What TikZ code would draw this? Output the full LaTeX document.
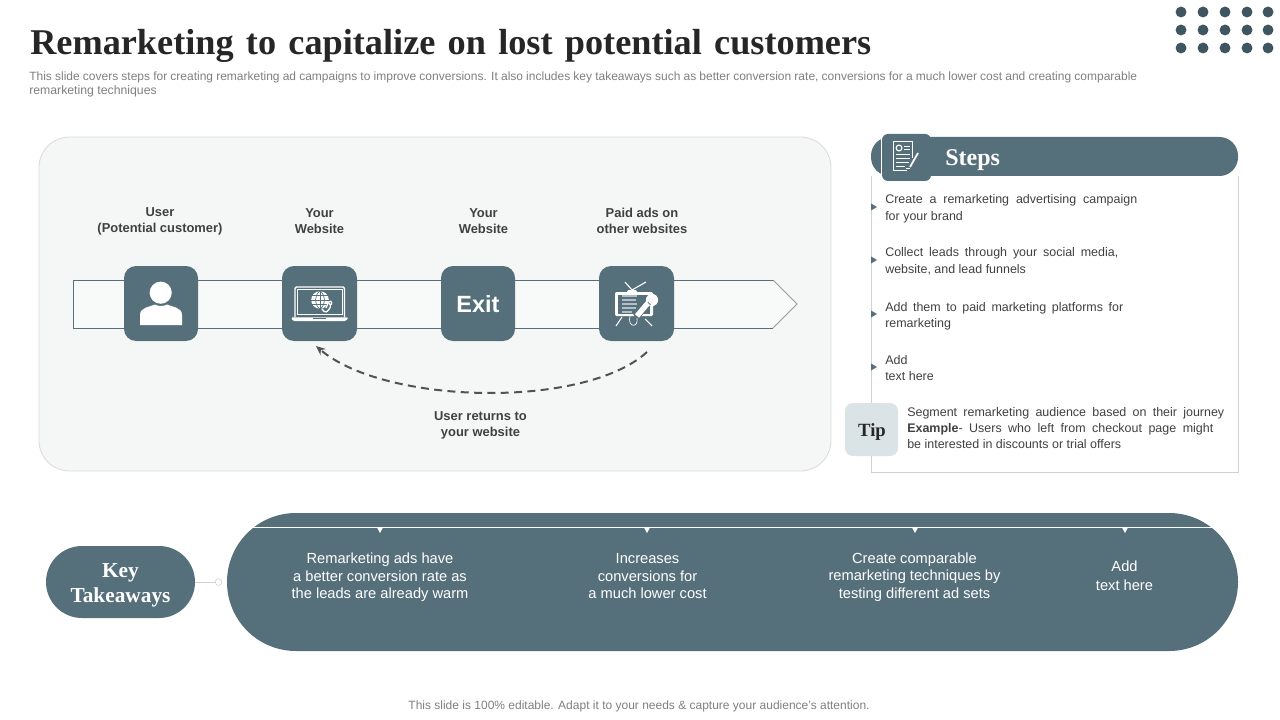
\documentclass[tikz,border=0pt]{standalone}
\usepackage{fontspec}
\setmainfont{Liberation Sans}
\newfontfamily\serifb[Ligatures=TeX]{Liberation Serif}
\usetikzlibrary{arrows.meta,calc}
\definecolor{slate}{HTML}{56707B}
\definecolor{dots}{HTML}{3F5661}
\definecolor{body}{HTML}{404040}
\definecolor{sub}{HTML}{7F7F7F}
\definecolor{panel}{HTML}{F5F7F6}
\definecolor{tipc}{HTML}{DAE3E6}
\newcommand{\fitline}[6]{\node[anchor=base west,inner sep=0pt,text=#5] (#1) at (#2) {#6\makebox[\dimexpr #3pt*3/4\relax][s]{#4}};}
\newcommand{\plainline}[5]{\node[anchor=base west,inner sep=0pt,text=#3] (#1) at (#2) {#4#5};}
\tikzset{
  iconbox/.style={fill=slate,rounded corners=9pt},
  lab/.style={align=center,inner sep=0pt,text=body,font=\fontsize{9.7}{12}\selectfont\bfseries},
  take/.style={align=center,inner sep=0pt,text=white,font=\fontsize{11}{13.1}\selectfont},
  bullet/.style={fill=slate},
  drop/.style={fill=white}
}
\newcommand{\stf}{\fontsize{9.35}{12}\selectfont}
\begin{document}
\begin{tikzpicture}[x=0.75pt,y=-0.75pt]
\useasboundingbox (0,0) rectangle (1280,720);
% title
\fitline{title}{30,55}{841}{Remarketing to capitalize on lost potential customers}{black!85}{\serifb\fontsize{27.2}{30}\selectfont\bfseries}
\fitline{sub1}{29,81}{1108}{This slide covers steps for creating remarketing ad campaigns to improve conversions. It also includes key takeaways such as better conversion rate, conversions for a much lower cost and creating comparable}{sub}{\fontsize{9}{10}\selectfont}
\plainline{sub2}{29,95}{sub}{\fontsize{9.2}{10}\selectfont}{remarketing techniques}
% dots
\foreach \x in {1181,1203,1225,1247,1268} \foreach \y in {12,30,48} \fill[dots] (\x,\y) circle (4.1pt);
% panel
\draw[draw=black!15,fill=panel,line width=0.6pt,rounded corners=23pt] (39,137) rectangle (831,471);
% arrow
\filldraw[fill=white!30!panel,draw=slate,line width=0.7pt] (773,280) -- (73,280) -- (73,328) -- (773,328);
\fill[white!30!panel] (773,280) -- (797,304) -- (773,328) -- cycle;
\draw[black!40,line width=0.6pt] (773,280) -- (797,304) -- (773,328);
% labels
\node[lab] (l1) at (160,221) {User\\(Potential customer)};
\node[lab] (l2) at (319.5,221) {Your\\Website};
\node[lab] (l3) at (483.5,221) {Your\\Website};
\node[lab] (l4) at (642,221) {Paid ads on\\other websites};
\node[lab] (l5) at (480.5,425) {User returns to\\your website};
% icon boxes
\fill[iconbox] (124,266) rectangle (198,341);
\fill[iconbox] (282,266) rectangle (357,341);
\fill[iconbox] (441,266) rectangle (515,341);
\fill[iconbox] (599,266) rectangle (674,341);
% person
\fill[white] (160.7,292.7) circle (8.3pt);
\fill[white] (140,325) -- (140,315) .. controls (140,307) and (150,307) .. (155,304.5) .. controls (158,306.5) and (164,306.5) .. (167,304.5) .. controls (172,307) and (182,307) .. (182,315) -- (182,325) -- cycle;
% laptop
\draw[white,line width=1pt,rounded corners=1pt] (295,317) -- (295,287) -- (344.5,287) -- (344.5,317);
\draw[white,line width=0.5pt] (297.5,289.5) rectangle (342,314.5);
\fill[white,rounded corners=1pt] (291,317.3) -- (348.5,317.3) -- (346,321) -- (293,321) -- cycle;
\fill[slate] (313,317.6) rectangle (326,319);
\fill[white] (320,300) circle (6.6pt);
\begin{scope}[slate,line width=0.5pt]
\draw (311,300) -- (329,300) (311.8,295.5) -- (328.2,295.5) (311.8,304.5) -- (328.2,304.5) (320,291) -- (320,309);
\draw (320,291) .. controls (314,295) and (314,305) .. (320,309);
\draw (320,291) .. controls (326,295) and (326,305) .. (320,309);
\end{scope}
\draw[slate,line width=2.2pt] (324,312) -- (331,301);
\draw[white,line width=1pt,rounded corners=1pt] (322,309) -- (325,312.5) -- (328,311) -- (331,306) -- (329,303);
\draw[white,line width=1pt,rounded corners=1pt] (326,308) -- (329,301) -- (332,301.5) -- (331,305);
% exit
\node[inner sep=0pt,text=white,font=\fontsize{17.6}{20}\selectfont\bfseries] (exit) at (478,304) {Exit};
% tv
\draw[white,line width=0.8pt] (625,282) -- (632,290) (646,282) -- (632,290);
\fill[white] (628,290) -- (636,290) -- (637,292) -- (627,292) -- cycle;
\fill[white,rounded corners=1pt] (615,292) rectangle (653,316);
\fill[slate] (618,294.5) rectangle (650,313.5);
\draw[white!55!slate,line width=1.1pt] (622,296) -- (637,296) (622,300) -- (636,300) (622,304) -- (637,304) (622,308) -- (636,308) (622,312) -- (632,312);
\draw[white,line width=0.8pt] (622,317) -- (616,326) (645,319) -- (652,326);
\draw[white,line width=0.5pt] (630,316) .. controls (627,328) and (639,328) .. (637,318);
\draw[slate,line width=5.5pt] (636,317) -- (650,300);
\draw[white,line width=4pt] (637,316) -- (648,303);
\fill[white] (652,300) circle (4.6pt);
\draw[slate,line width=0.5pt] (647.8,302.2) -- (650.6,305);
% dashed return arrow
\coordinate (retS) at (647,352);
\coordinate (retE) at (316,346);
\draw[body!90!white,line width=1.5pt,dash pattern=on 6pt off 4pt,-{Stealth[length=7pt,width=6pt]}] (retS) .. controls (585,409) and (385,405) .. (retE);
% steps
\draw[black!18,line width=0.6pt] (871,176) -- (871,472) -- (1238.5,472) -- (1238.5,176);
\fill[slate,rounded corners=14pt] (871,137) rectangle (1238,176);
\draw[white,line width=0.5pt] (881.5,134) -- (881.5,178);
\fill[iconbox,rounded corners=4.5pt] (882,134) rectangle (931,181);
\draw[white,line width=0.6pt] (912,158) -- (912,141.5) -- (893.5,141.5) -- (893.5,170) -- (907,170);
\draw[white,line width=0.8pt] (899,148) circle (2.2pt);
\draw[white,line width=0.5pt] (904,146) -- (910,146) (904,149) -- (910,149) (896,154) -- (910,154) (896,158) -- (910,158) (896,162) -- (909,162) (896,166) -- (905,166);
\draw[white,line width=1.3pt] (910,167) -- (918,153);
\draw[white,line width=0.5pt] (906,168.5) -- (910,168.5);
\node[anchor=base west,inner sep=0pt,text=white,font=\serifb\fontsize{18}{20}\selectfont\bfseries] (steps) at (945,166) {Steps};
\foreach \y in {207,260,314,367} \fill[bullet] (871,\y-3.5) -- (877,\y) -- (871,\y+3.5) -- cycle;
\fitline{s1a}{885,204}{252}{Create a remarketing advertising campaign}{body}{\stf}
\plainline{s1b}{885,220}{body}{\stf}{for your brand}
\fitline{s2a}{885,257}{233}{Collect leads through your social media,}{body}{\stf}
\plainline{s2b}{885,273}{body}{\stf}{website, and lead funnels}
\fitline{s3a}{885,311}{238}{Add them to paid marketing platforms for}{body}{\stf}
\plainline{s3b}{885,327}{body}{\stf}{remarketing}
\plainline{s4a}{885,364}{body}{\stf}{Add}
\plainline{s4b}{885,380}{body}{\stf}{text here}
% tip
\fill[tipc,rounded corners=6pt] (845,403) rectangle (898,456);
\node[inner sep=0pt,text=black!85,font=\serifb\fontsize{14}{16}\selectfont\bfseries] (tip) at (872,432.5) {Tip};
\fitline{t1}{907,416}{317}{Segment remarketing audience based on their journey}{body}{\stf}
\fitline{t2}{907,432}{306}{\textbf{Example}- Users who left from checkout page might}{body}{\stf}
\plainline{t3}{907,448}{body}{\stf}{be interested in discounts or trial offers}
% takeaways
\fill[slate,rounded corners=27pt] (46,546) rectangle (195,618);
\node[align=center,inner sep=0pt,text=white,font=\serifb\fontsize{16}{18.5}\selectfont\bfseries] (key) at (120.5,585.5) {Key\\Takeaways};
\coordinate (keyR) at (195,582);
\node[circle,draw=black!18,fill=white,line width=0.4pt,inner sep=0pt,minimum size=5pt] (dot) at (218.5,582) {};
\draw[black!18,line width=0.5pt] (keyR) -- (dot);
\fill[slate,rounded corners=51.7pt] (227,513) rectangle (1238,651);
\draw[white,line width=0.8pt] (252,527.5) -- (1212,527.5);
\foreach \x in {380,647,915,1125} \fill[drop] (\x-3,527.5) -- (\x+3,527.5) -- (\x,533) -- cycle;
\node[take] (k1) at (380,577.3) {Remarketing ads have\\a better conversion rate as\\the leads are already warm};
\node[take] (k2) at (647.5,576.2) {Increases\\conversions for\\a much lower cost};
\node[take] (k3) at (914.5,577) {Create comparable\\remarketing techniques by\\testing different ad sets};
\node[take,font=\fontsize{11}{14.2}\selectfont] (k4) at (1124.5,576) {Add\\text here};
% footer
\node[inner sep=0pt,text=sub,font=\fontsize{9}{10}\selectfont] (foot) at (639,706) {This slide is 100\% editable. Adapt it to your needs \& capture your audience’s attention.};
\end{tikzpicture}
\end{document}
